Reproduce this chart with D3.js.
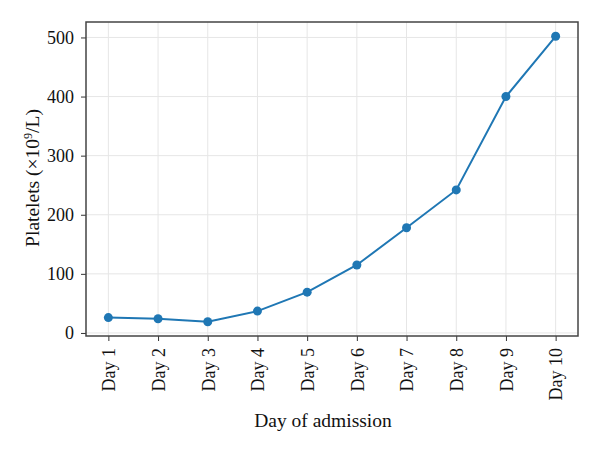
<!DOCTYPE html>
<html>
<head>
<meta charset="utf-8">
<script src="https://cdn.jsdelivr.net/npm/d3@7"></script>
<style>
  body { margin: 0; background: #fff; }
  text { font-family: "Liberation Serif", "DejaVu Serif", serif; fill: #111; }
</style>
</head>
<body>
<div id="chart"></div>
<script>
// platelet counts by day of admission
const days = ["Day 1", "Day 2", "Day 3", "Day 4", "Day 5", "Day 6", "Day 7", "Day 8", "Day 9", "Day 10"];
const platelets = [26, 24, 19, 37, 69, 115, 178, 242, 400, 502];
const yTicks = [0, 100, 200, 300, 400, 500];

const width = 600,
      height = 454,
      margin = {top: 22, right: 22, bottom: 118, left: 86};

const data = days.map((d, i) => ({day: d, i: i, value: platelets[i]}));

let svg = d3.select("#chart")
    .append("svg")
    .attr("width", width)
    .attr("height", height);

// matplotlib-like 5% margins
let x = d3.scaleLinear()
    .domain([-0.45, days.length - 1 + 0.45])
    .range([margin.left, width - margin.right]);

let y = d3.scaleLinear()
    .domain([-5.15, 526.15])
    .range([height - margin.bottom, margin.top]);

// grid
svg.append("g")
    .selectAll("line")
    .data(yTicks)
    .join("line")
    .attr("x1", margin.left).attr("x2", width - margin.right)
    .attr("y1", d => y(d)).attr("y2", d => y(d))
    .attr("stroke", "#e6e6e6").attr("stroke-width", 1);

svg.append("g")
    .selectAll("line")
    .data(data)
    .join("line")
    .attr("x1", d => x(d.i)).attr("x2", d => x(d.i))
    .attr("y1", margin.top).attr("y2", height - margin.bottom)
    .attr("stroke", "#e6e6e6").attr("stroke-width", 1);

// axes
const xAxis = g => g
    .attr("transform", `translate(0,${height - margin.bottom})`)
    .call(d3.axisBottom(x).tickValues(d3.range(days.length)).tickFormat(i => days[i]).tickSize(5).tickPadding(6).tickSizeOuter(0))
    .call(g => g.select(".domain").remove())
    .call(g => g.selectAll(".tick line").attr("stroke", "#333"))
    .call(g => g.selectAll(".tick text")
        .attr("transform", "rotate(-90)")
        .attr("text-anchor", "end")
        .attr("x", -12).attr("y", 0).attr("dy", "0.35em")
        .style("font-size", "18px"));

const yAxis = g => g
    .attr("transform", `translate(${margin.left},0)`)
    .call(d3.axisLeft(y).tickValues(yTicks).tickSize(5).tickPadding(7).tickSizeOuter(0))
    .call(g => g.select(".domain").remove())
    .call(g => g.selectAll(".tick line").attr("stroke", "#333"))
    .call(g => g.selectAll(".tick text").style("font-size", "18px"));

svg.append("g").call(xAxis);
svg.append("g").call(yAxis);

// frame
svg.append("rect")
    .attr("x", margin.left).attr("y", margin.top)
    .attr("width", width - margin.left - margin.right)
    .attr("height", height - margin.top - margin.bottom)
    .attr("fill", "none").attr("stroke", "#444").attr("stroke-width", 1.5);

// line + points
const line = d3.line().x(d => x(d.i)).y(d => y(d.value));

svg.append("path")
    .datum(data)
    .attr("fill", "none")
    .attr("stroke", "#1f77b4")
    .attr("stroke-width", 2)
    .attr("d", line);

svg.append("g")
    .selectAll("circle")
    .data(data)
    .join("circle")
    .attr("cx", d => x(d.i))
    .attr("cy", d => y(d.value))
    .attr("r", 4.5)
    .attr("fill", "#1f77b4");

// labels
svg.append("text")
    .attr("x", 323)
    .attr("y", 427)
    .attr("text-anchor", "middle")
    .style("font-size", "19.5px")
    .text("Day of admission");

svg.append("text")
    .attr("transform", `translate(39,178) rotate(-90)`)
    .attr("text-anchor", "middle")
    .style("font-size", "19.5px")
    .html("Platelets (×10<tspan dy='-7' style='font-size:12px'>9</tspan><tspan dy='7'>/L)</tspan>");
</script>
</body>
</html>
